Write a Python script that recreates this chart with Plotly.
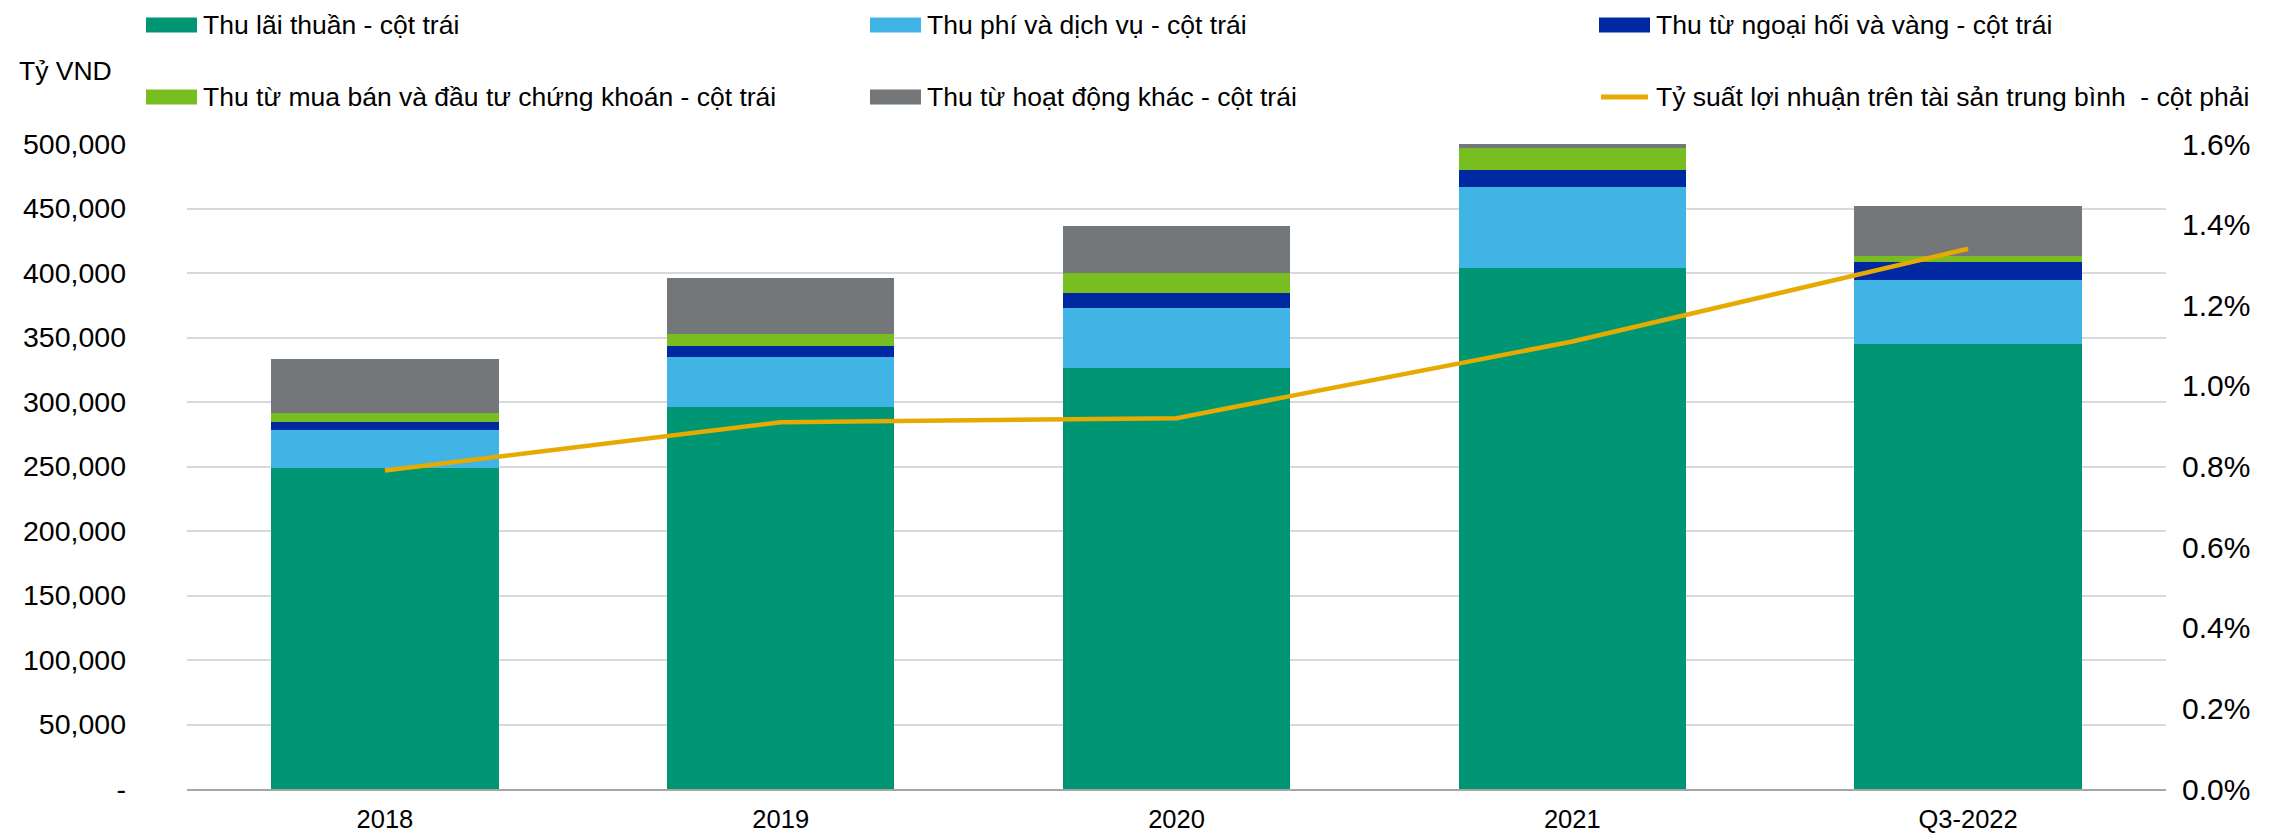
import plotly.graph_objects as go

categories = ["2018", "2019", "2020", "2021", "Q3-2022"]
thu_lai_thuan = [248600, 296100, 326100, 404100, 345200]
thu_phi_dich_vu = [29400, 38800, 46800, 62300, 49100]
thu_ngoai_hoi_vang = [6700, 8800, 11600, 13200, 14000]
thu_chung_khoan = [7000, 9000, 15700, 17500, 4600]
thu_khac = [41400, 43200, 36200, 3000, 39300]
roa = [0.0079, 0.0091, 0.0092, 0.0111, 0.0134]

y_ticks = [0, 50000, 100000, 150000, 200000, 250000, 300000, 350000, 400000, 450000, 500000]
y_ticktext = ["-"] + [f"{v:,}" for v in y_ticks[1:]]
y2_ticks = [i * 0.002 for i in range(9)]

names = [
    "Thu lãi thuần - cột trái",
    "Thu phí và dịch vụ - cột trái",
    "Thu từ ngoại hối và vàng - cột trái",
    "Thu từ mua bán và đầu tư chứng khoán - cột trái",
    "Thu từ hoạt động khác - cột trái",
    "Tỷ suất lợi nhuận trên tài sản trung bình  - cột phải",
]
colors = ["#009673", "#41B4E6", "#0028A0", "#78BE20", "#74777A", "#E6AA00"]
series = [thu_lai_thuan, thu_phi_dich_vu, thu_ngoai_hoi_vang, thu_chung_khoan, thu_khac]

# the page has an 8px body margin: the figure starts at window (8, 8)
OFF = 8
W, H = 2289, 834
PLOT_X0, PLOT_X1, PLOT_Y0, PLOT_Y1 = 187, 2166, 144, 789   # window pixels
L = PLOT_X0 - OFF
R = W - (PLOT_X1 - OFF)
T = PLOT_Y0 - OFF
B = H - (PLOT_Y1 - OFF)
PW, PH = W - L - R, H - T - B
FONT = "Liberation Sans, Arial, sans-serif"

def px_to_paper(x, y):
    x -= OFF
    y -= OFF
    return (x - L) / PW, (H - B - y) / PH

fig = go.Figure()
for name, vals, col in zip(names[:5], series, colors[:5]):
    fig.add_trace(go.Bar(x=categories, y=vals, name=name, marker_color=col,
                         marker_line_width=0, showlegend=False))
fig.add_trace(go.Scatter(x=categories, y=roa, name=names[5], mode="lines",
                         line=dict(color=colors[5], width=4.5), yaxis="y2",
                         showlegend=False))

# custom legend
shapes = []
annotations = []
col_x = [146, 870, 1599]
row_y = [25, 97]
for i, (name, col) in enumerate(zip(names, colors)):
    r, c = divmod(i, 3)
    sx0, sx1 = col_x[c], col_x[c] + 51
    sy = row_y[r]
    if i < 5:
        x0, y0 = px_to_paper(sx0, sy + 7.5)
        x1, y1 = px_to_paper(sx1, sy - 7.5)
        shapes.append(dict(type="rect", xref="paper", yref="paper", x0=x0, x1=x1,
                           y0=y0, y1=y1, fillcolor=col, line=dict(width=0)))
    else:
        x0, y0 = px_to_paper(sx0 + 2, sy)
        x1, _ = px_to_paper(sx1 - 2, sy)
        shapes.append(dict(type="line", xref="paper", yref="paper", x0=x0, x1=x1,
                           y0=y0, y1=y0, line=dict(color=col, width=5)))
    tx, ty = px_to_paper(sx1 + 4, sy)
    annotations.append(dict(text=name, x=tx, y=ty, xref="paper", yref="paper",
                            xanchor="left", yanchor="middle", showarrow=False,
                            font=dict(size=26.5, color="#000000", family=FONT)))
ax, ay = px_to_paper(17, 71)
annotations.append(dict(text="Tỷ VND", x=ax, y=ay, xref="paper", yref="paper",
                        xanchor="left", yanchor="middle", showarrow=False,
                        font=dict(size=26.5, color="#000000", family=FONT)))

fig.update_layout(
    width=W, height=H,
    margin=dict(l=L, r=R, t=T, b=B, pad=0, autoexpand=False),
    barmode="stack", bargap=0.425,
    plot_bgcolor="white", paper_bgcolor="white",
    font=dict(family=FONT, color="#000000", size=26),
    shapes=shapes, annotations=annotations,
    xaxis=dict(type="category", showgrid=False, showline=True, linecolor="#A6A6A6",
               linewidth=2, ticks="", tickfont=dict(size=25.5), ticklabelstandoff=6,
               automargin=False),
    yaxis=dict(range=[0, 500000], tickvals=y_ticks, ticktext=y_ticktext,
               showgrid=True, gridcolor="#D9D9D9", gridwidth=1.5, zeroline=False,
               showline=False, ticks="", tickfont=dict(size=28.5), ticklabelstandoff=60,
               automargin=False),
    yaxis2=dict(range=[0, 0.016], tickvals=y2_ticks, tickformat=".1%", overlaying="y",
                side="right", showgrid=False, zeroline=False, showline=False, ticks="",
                tickfont=dict(size=30), ticklabelstandoff=15, automargin=False),
)

fig.write_html("out.html")
